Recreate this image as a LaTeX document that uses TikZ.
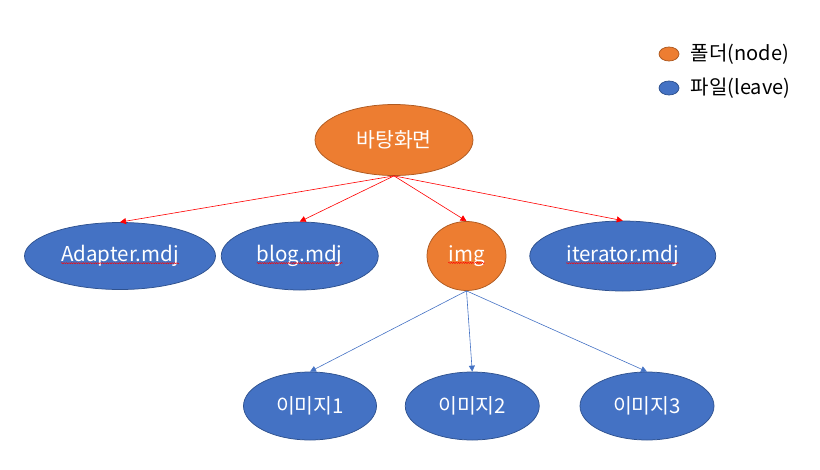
\documentclass[tikz,border=0pt]{standalone}
\usepackage{fontspec}
\setmainfont{Noto Sans CJK KR}
\usepackage{xcolor}
\usetikzlibrary{shapes.geometric,positioning,arrows.meta,decorations.pathmorphing}

\definecolor{folderorange}{HTML}{ED7D31}
\definecolor{folderedge}{HTML}{AE5A21}
\definecolor{fileblue}{HTML}{4472C4}
\definecolor{fileedge}{HTML}{2F528F}

\begin{document}
\begin{tikzpicture}[x = 1pt, y = -1pt,
        folder/.style = {ellipse, draw = folderedge, fill = folderorange, text = white, inner sep = 0pt, line width = 0.75pt},
        file/.style = {ellipse, draw = fileedge, fill = fileblue, text = white, inner sep = 0pt, line width = 0.75pt},
        spelltext/.style = {inner sep = 0pt, text = white},
        spellwave/.style = {draw = red, line width = 0.45pt, decorate, decoration = {snake, amplitude = 0.6pt, segment length = 2.4pt}},
        redarrow/.style = {red, line width = 0.6pt, -{Triangle[length = 6pt, width = 6pt]}},
        bluearrow/.style = {fileblue, line width = 0.6pt, -{Triangle[length = 6pt, width = 6pt]}},
        legendtext/.style = {font = \fontsize{20}{24}\selectfont, text = black},
        every node/.append style = {font = \fontsize{20.5}{24}\selectfont}]
        \useasboundingbox (0,0) rectangle (820,469);

        \node [folder, minimum width = 158pt, minimum height = 71pt] (root) at (394,140) {바탕화면};
        \node [file, minimum width = 191pt, minimum height = 67pt] (adapter) at (120,256) {};
        \node [file, minimum width = 157pt, minimum height = 68pt] (blog) [right = 5pt of adapter] {};
        \node [folder, minimum width = 79pt, minimum height = 69pt] (img) [right = 48pt of blog] {};
        \node [file, minimum width = 186pt, minimum height = 70pt] (iterator) [right = 23pt of img] {};
        \node [file, minimum width = 133pt, minimum height = 68pt] (pic1) at (310,406) {이미지1};
        \node [file, minimum width = 134pt, minimum height = 68pt] (pic2) [right = 28pt of pic1] {이미지2};
        \node [file, minimum width = 134pt, minimum height = 68pt] (pic3) [right = 40pt of pic2] {이미지3};

        % file names with the spell-check wave under them
        \node [spelltext] (adaptertext) at (adapter) {Adapter.mdj};
        \node [spelltext] (blogtext) at (blog) {blog.mdj};
        \node [spelltext] (imgtext) at (img) {img};
        \node [spelltext] (iteratortext) at (iterator) {iterator.mdj};
        \foreach \w in {adaptertext, blogtext, imgtext, iteratortext}
            \draw [spellwave] ([yshift = -1.5pt]\w.base west) -- ([yshift = -1.5pt]\w.base east);

        % legend
        \node [folder, minimum width = 20pt, minimum height = 14pt] (legfolder) at (669,54) {};
        \node [legendtext] (legfoldertext) [right = 8pt of legfolder] {폴더(node)};
        \node [file, minimum width = 20pt, minimum height = 14pt] (legfile) at (669,88) {};
        \node [legendtext] (legfiletext) [right = 8pt of legfile] {파일(leave)};

        \path
            (root.south) edge [redarrow] (adapter.north)
                         edge [redarrow] (blog.north)
                         edge [redarrow] (img.north)
                         edge [redarrow] (iterator.north)
            (img.south) edge [bluearrow] (pic1.north)
                        edge [bluearrow] (pic2.north)
                        edge [bluearrow] (pic3.north);
    \end{tikzpicture}
\end{document}
